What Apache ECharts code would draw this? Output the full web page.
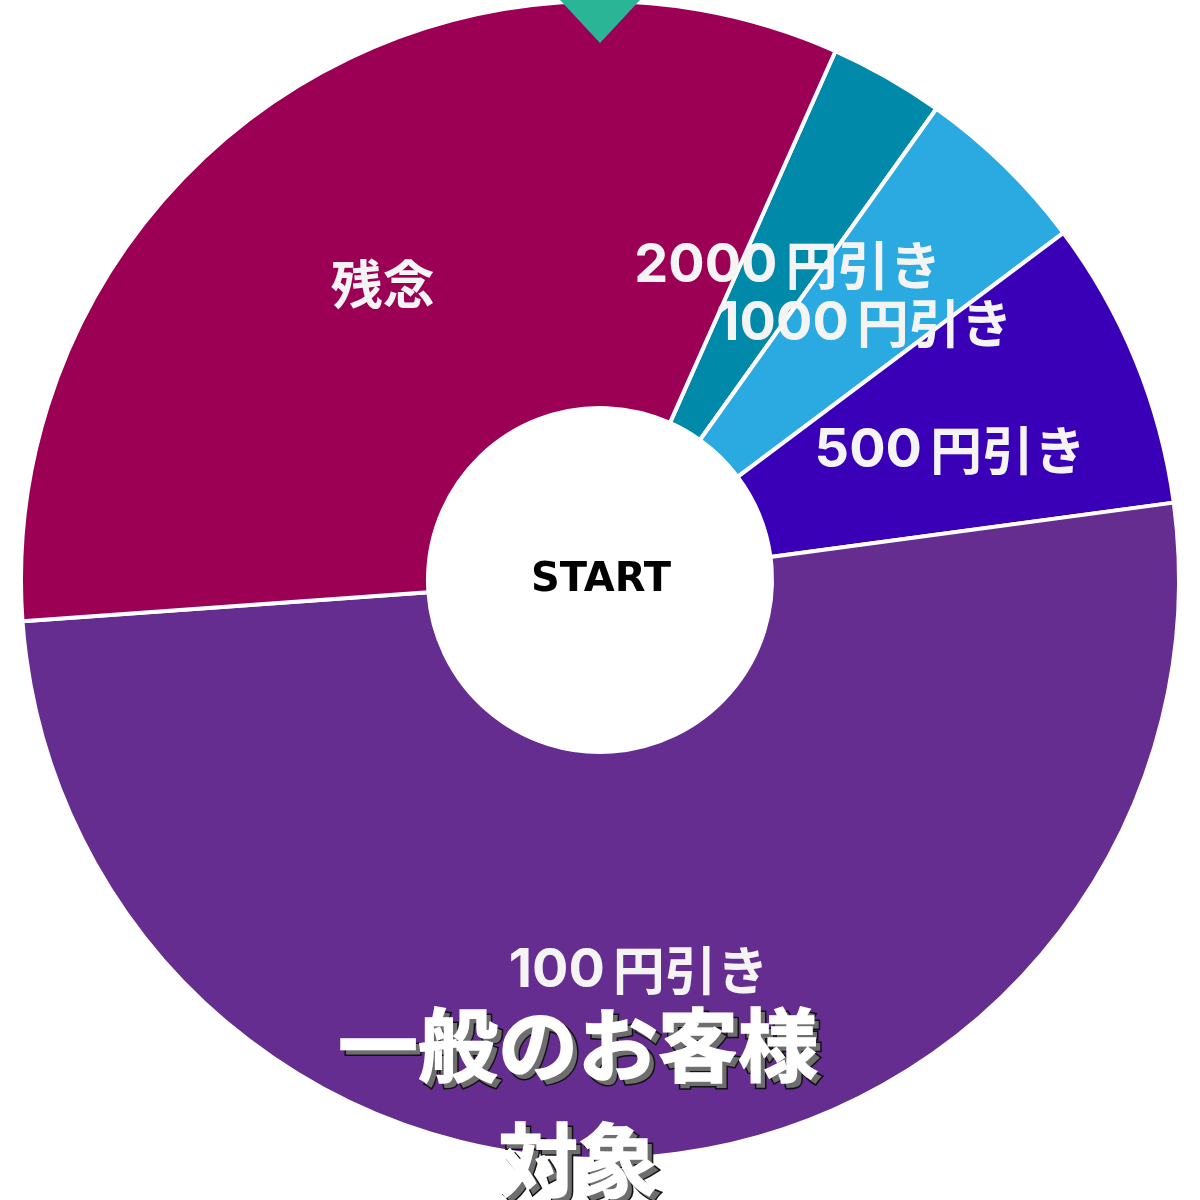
<!DOCTYPE html>
<html>
<head>
<meta charset="utf-8">
<script src="https://cdn.jsdelivr.net/npm/echarts@6/dist/echarts.min.js"></script>
<style>
html,body{margin:0;padding:0;background:#fff;}
#chart{width:1200px;height:1200px;}
</style>
</head>
<body>
<div id="chart"></div>
<script>
// Data (clockwise from the slice right of the top pointer)
var categories = ['2000円引き', '1000円引き', '500円引き', '100円引き', '残念'];
var shares = [3.2, 4.9, 8.1, 51.0, 32.8];
var sliceColors = ['#0089A8', '#2BA9E1', '#3A00B8', '#662D91', '#9C0055'];
var centerText = 'START';
var overlayLines = ['一般のお客様', '対象'];

var chart = echarts.init(document.getElementById('chart'), null, {renderer: 'canvas'});

var data = categories.map(function (c, i) {
  return {name: c, value: shares[i], itemStyle: {color: sliceColors[i]}};
});

var jpFont = '"Noto Sans CJK JP", "Noto Sans", sans-serif';
var digitFont = 'Inter, "Noto Sans CJK JP", sans-serif';

function overlayText(txt, x, y) {
  return [
    {
      type: 'text', x: x + 5, y: y + 5, z: 100,
      style: {
        text: txt, align: 'center', verticalAlign: 'middle',
        font: 'bold 80px ' + jpFont,
        fill: '#6e6e6e', stroke: '#111', lineWidth: 3
      }
    },
    {
      type: 'text', x: x, y: y, z: 101,
      style: {
        text: txt, align: 'center', verticalAlign: 'middle',
        font: 'bold 80px ' + jpFont,
        fill: '#ffffff', stroke: '#ffffff', lineWidth: 1.5
      }
    }
  ];
}

var graphics = [
  {
    type: 'polygon', z: 50,
    shape: {points: [[560, 0], [640, 0], [600, 43]]},
    style: {fill: '#2BB597'}
  },
  {
    type: 'text', x: 601, y: 581, z: 50,
    style: {
      text: centerText, align: 'center', verticalAlign: 'middle',
      font: 'bold 40px "DejaVu Sans", sans-serif',
      fill: '#000'
    }
  }
].concat(overlayText(overlayLines[0], 578, 1045))
 .concat(overlayText(overlayLines[1], 578, 1160));

chart.setOption({
  backgroundColor: '#ffffff',
  animation: false,
  series: [{
    type: 'pie',
    center: [600, 580],
    radius: [172, 579],
    startAngle: 66,
    clockwise: true,
    avoidLabelOverlap: false,
    silent: true,
    itemStyle: {borderColor: '#ffffff', borderWidth: 4},
    label: {
      show: true,
      position: 'inside',
      formatter: function (p) {
        var m = /^(\d+)(.*)$/.exec(p.name);
        if (m) return '{d|' + m[1] + '}{c|' + m[2] + '}';
        return '{c|' + p.name + '}';
      },
      color: '#F4F4F4',
      offset: [0, 14],
      rich: {
        d: {fontSize: 54, fontWeight: 'bold', fontFamily: digitFont, color: '#F4F4F4', padding: [0, 8, 0, 0]},
        c: {fontSize: 52, fontWeight: 'bold', fontFamily: jpFont, color: '#F4F4F4'}
      }
    },
    labelLine: {show: false},
    data: data
  }],
  graphic: graphics
});
</script>
</body>
</html>
